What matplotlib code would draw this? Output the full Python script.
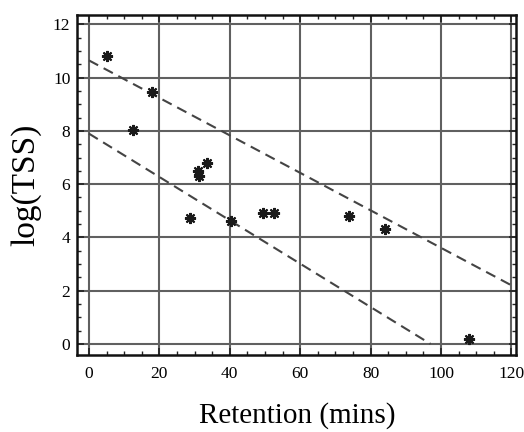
import matplotlib
matplotlib.use("Agg")
import matplotlib.pyplot as plt
from matplotlib.ticker import MultipleLocator

# data
retention = [5, 18, 12.5, 28.7, 31, 31.3, 33.4, 40.3, 49.4, 52.6, 73.9, 84.2, 108]
log_tss = [10.8, 9.45, 8.03, 4.73, 6.5, 6.3, 6.8, 4.6, 4.92, 4.93, 4.8, 4.31, 0.2]

# two dashed fit lines (end points)
fit1_x = [0, 120]
fit1_y = [10.65, 2.2]
fit2_x = [0, 97]
fit2_y = [7.9, 0.0]

xticks = [0, 20, 40, 60, 80, 100, 120]
yticks = [0, 2, 4, 6, 8, 10, 12]

plt.rcParams['font.family'] = ['Liberation Serif', 'DejaVu Serif']

fig = plt.figure(figsize=(5.24, 4.32), dpi=100)
ax = fig.add_axes([0.1475, 0.178, 0.838, 0.787])

for v in xticks:
    ax.axvline(v, color='#606060', lw=1.5, zorder=1)
for v in yticks:
    ax.axhline(v, color='#606060', lw=1.5, zorder=1)

ax.plot(fit1_x, fit1_y, ls=(0, (5, 3)), color='#444444', lw=1.5, zorder=2)
ax.plot(fit2_x, fit2_y, ls=(0, (5, 3)), color='#444444', lw=1.5, zorder=2)

ax.plot(retention, log_tss, ls='none', marker=(8, 2, 0), ms=8, mew=1.5,
        color='#1a1a1a', zorder=3)

ax.set_xlim(-3.3, 121.4)
ax.set_ylim(-0.42, 12.35)
ax.set_xticks(xticks)
ax.set_yticks(yticks)
ax.xaxis.set_minor_locator(MultipleLocator(5))
ax.yaxis.set_minor_locator(MultipleLocator(0.5))
ax.tick_params(which='both', direction='in', top=True, right=True,
               color='#222222', labelsize=12.5)
ax.tick_params(which='major', length=5, width=1.2)
ax.tick_params(which='minor', length=3, width=1.0)
ax.tick_params(axis='x', pad=8)
ax.tick_params(axis='y', pad=5)
for s in ax.spines.values():
    s.set_linewidth(1.8)
    s.set_color('#111111')

ax.set_xlabel('Retention (mins)', fontsize=21, labelpad=14)
ax.set_ylabel('log(TSS)', fontsize=24, labelpad=8)

fig.savefig('out.png', dpi=100)
